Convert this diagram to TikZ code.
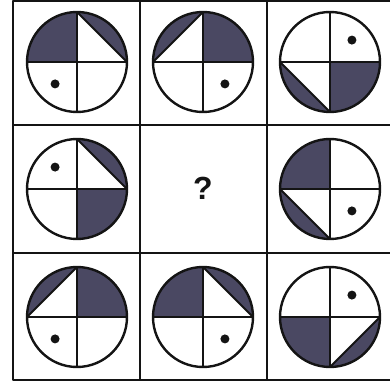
\documentclass[tikz,border=0pt]{standalone}
\usepackage{fontspec}
\setsansfont{Liberation Sans}
\usepackage{tikz}
\usepackage{xcolor}
\usetikzlibrary{calc}
\definecolor{Slate}{HTML}{4A4862}
\definecolor{Ink}{HTML}{141414}

\begin{document}
\begin{tikzpicture}[x=1pt, y=1pt, line join=round]
    \clip (0,0) rectangle (390,385);
    \fill[white] (0,0) rectangle (390,385);

    % Grid
    \draw[line width=2pt, Ink] (13,5) rectangle (394,384);
    \draw[line width=2pt, Ink] (140,5) -- (140,384);
    \draw[line width=2pt, Ink] (267,5) -- (267,384);
    \draw[line width=2pt, Ink] (13,260) -- (394,260);
    \draw[line width=2pt, Ink] (13,132) -- (394,132);

    % Circles: centre x / centre y / shaded quarter / cut quarter / dot quarter
    \foreach \cx/\cy/\full/\seg/\spot in {77/323/90/0/180, 203/323/0/90/270, 330/323/270/180/0,
                                          77/196/270/0/90, 330/196/90/180/270,
                                          77/68/0/90/180, 203/68/90/0/270, 330/68/180/270/0} {
        \coordinate (c) at (\cx,\cy);
        % shaded quarter
        \fill[Slate] (c) -- ++(\full:50) arc (\full:\full+90:50) -- cycle;
        % cut quarter
        \fill[Slate] ($(c)+(\seg:50)$) arc (\seg:\seg+90:50) -- cycle;
        \draw[line width=1.8pt, Ink] ($(c)+(\seg:50)$) -- ($(c)+(\seg+90:50)$);
        % cross and outline
        \draw[line width=1.8pt, Ink] ($(c)+(-50,0)$) -- ($(c)+(50,0)$);
        \draw[line width=1.8pt, Ink] ($(c)+(0,-50)$) -- ($(c)+(0,50)$);
        \draw[line width=2.4pt, Ink] (c) circle (50);
        % dot
        \fill[Ink] ($(c)+(\spot+45:31)$) circle (4.5);
    }

    % Missing figure
    \node[font=\sffamily\bfseries\fontsize{32}{32}\selectfont, Ink] (qmark) at (203,197) {?};

\end{tikzpicture}
\end{document}
